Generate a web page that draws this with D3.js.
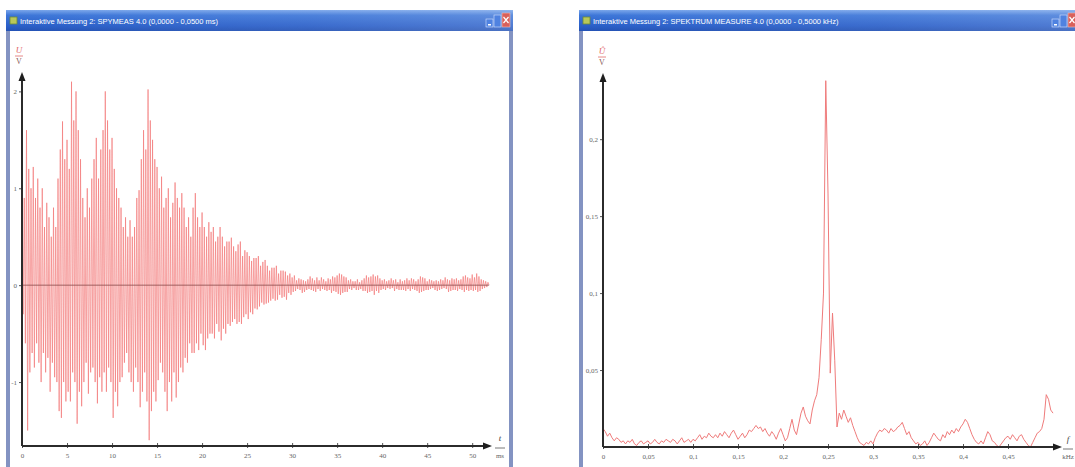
<!DOCTYPE html>
<html>
<head>
<meta charset="utf-8">
<script src="https://cdn.jsdelivr.net/npm/d3@7"></script>
<style>
  body { margin: 0; background: #ffffff; }
  svg { display: block; }
</style>
</head>
<body>
<svg id="chart" width="1075" height="467"></svg>
<script>
// ---- Oscillogram: voltage U in V, sampled every 0.125 ms (one row = 1 ms) ----
const sampleStepMs = 0.125;
const voltage = [
  0.4, -0.3, 0.9, -0.6, 1.6, -1.5, 1.2, -0.9,
  1.0, -0.7, 1.22, -0.85, 0.9, -0.6, 1.1, -0.8,
  0.8, -1.0, 1.0, -0.7, 0.6, -0.9, 0.85, -0.75,
  0.7, -1.1, 0.5, -0.8, 0.8, -0.95, 0.6, -1.0,
  1.1, -1.3, 1.4, -1.37, 1.69, -1.0, 1.3, -1.2,
  1.5, -1.1, 1.2, -1.2, 2.1, -0.9, 1.7, -1.0,
  2.0, -1.43, 1.6, -1.1, 1.3, -1.25, 0.9, -1.0,
  0.7, -0.8, 1.0, -1.12, 0.8, -0.9, 1.1, -0.85,
  1.3, -1.0, 1.52, -1.22, 1.1, -0.95, 1.4, -1.1,
  1.6, -0.9, 2.0, -1.1, 1.7, -0.85, 1.4, -1.0,
  1.52, -1.37, 1.2, -1.1, 1.0, -1.25, 0.9, -1.0,
  0.8, -0.95, 0.6, -0.8, 0.7, -0.7, 0.5, -0.9,
  0.67, -1.0, 0.5, -1.1, 0.6, -0.85, 0.9, -1.0,
  0.98, -1.26, 1.3, -1.1, 1.6, -0.9, 1.4, -1.2,
  2.02, -1.6, 1.7, -1.3, 1.5, -1.1, 1.3, -1.2,
  1.22, -0.98, 1.0, -0.8, 1.12, -0.9, 0.8, -1.1,
  0.9, -1.3, 1.0, -1.0, 0.7, -1.2, 0.85, -0.9,
  1.06, -1.16, 0.9, -1.0, 0.8, -0.85, 0.95, -0.9,
  0.8, -0.75, 0.6, -0.8, 0.7, -0.6, 0.5, -0.7,
  0.8, -0.7, 0.95, -0.6, 0.7, -0.67, 0.6, -0.5,
  0.75, -0.62, 0.6, -0.67, 0.5, -0.55, 0.65, -0.5,
  0.55, -0.5, 0.6, -0.55, 0.45, -0.4, 0.5, -0.48,
  0.6, -0.57, 0.5, -0.45, 0.4, -0.5, 0.45, -0.4,
  0.45, -0.42, 0.49, -0.38, 0.4, -0.35, 0.35, -0.4,
  0.42, -0.38, 0.45, -0.4, 0.3, -0.33, 0.36, -0.3,
  0.34, -0.35, 0.3, -0.28, 0.25, -0.3, 0.28, -0.24,
  0.28, -0.25, 0.3, -0.22, 0.2, -0.18, 0.24, -0.2,
  0.26, -0.19, 0.2, -0.18, 0.15, -0.16, 0.18, -0.14,
  0.18, -0.16, 0.2, -0.15, 0.12, -0.1, 0.15, -0.13,
  0.15, -0.12, 0.14, -0.15, 0.1, -0.08, 0.12, -0.1,
  0.08, -0.07, 0.1, -0.06, 0.05, -0.04, 0.07, -0.05,
  0.06, -0.08, 0.05, -0.07, 0.04, -0.05, 0.06, -0.04,
  0.09, -0.05, 0.07, -0.06, 0.05, -0.07, 0.08, -0.04,
  0.05, -0.06, 0.08, -0.04, 0.06, -0.05, 0.04, -0.06,
  0.07, -0.05, 0.06, -0.08, 0.09, -0.06, 0.08, -0.07,
  0.1, -0.09, 0.12, -0.1, 0.11, -0.08, 0.09, -0.07,
  0.08, -0.07, 0.05, -0.04, 0.06, -0.05, 0.04, -0.03,
  0.04, -0.05, 0.06, -0.05, 0.03, -0.04, 0.05, -0.06,
  0.07, -0.06, 0.1, -0.08, 0.08, -0.07, 0.09, -0.06,
  0.11, -0.1, 0.09, -0.06, 0.1, -0.08, 0.07, -0.05,
  0.05, -0.04, 0.06, -0.05, 0.04, -0.03, 0.05, -0.04,
  0.07, -0.03, 0.05, -0.06, 0.06, -0.04, 0.03, -0.05,
  0.06, -0.05, 0.04, -0.05, 0.05, -0.06, 0.07, -0.04,
  0.05, -0.06, 0.07, -0.04, 0.06, -0.05, 0.04, -0.06,
  0.06, -0.08, 0.09, -0.07, 0.08, -0.06, 0.07, -0.05,
  0.04, -0.05, 0.06, -0.04, 0.05, -0.03, 0.04, -0.05,
  0.05, -0.06, 0.04, -0.05, 0.06, -0.04, 0.05, -0.03,
  0.08, -0.04, 0.06, -0.07, 0.05, -0.06, 0.07, -0.05,
  0.06, -0.05, 0.07, -0.06, 0.05, -0.04, 0.06, -0.05,
  0.09, -0.07, 0.1, -0.05, 0.08, -0.06, 0.07, -0.05,
  0.11, -0.06, 0.08, -0.05, 0.12, -0.07, 0.09, -0.06,
  0.06, -0.04, 0.05, -0.03, 0.04, -0.02, 0.03, 0.0
];
const timeTicks = [0, 5, 10, 15, 20, 25, 30, 35, 40, 45, 50];
const timeTickLabels = ["0", "5", "10", "15", "20", "25", "30", "35", "40", "45", "50"];
const voltageTicks = [-1, 0, 1, 2];
const voltageTickLabels = ["-1", "0", "1", "2"];

// ---- Spectrum: amplitude Û in V, sampled every 0.0025 kHz ----
const freqStepKHz = 0.0025;
const amplitude = [
  0.012, 0.010, 0.007, 0.009, 0.006, 0.004, 0.006, 0.005, 0.003, 0.004,
  0.002, 0.004, 0.003, 0.005, 0.002, 0.001, 0.003, 0.004, 0.002, 0.003,
  0.004, 0.002, 0.003, 0.005, 0.003, 0.002, 0.004, 0.003, 0.005, 0.004,
  0.003, 0.005, 0.004, 0.002, 0.004, 0.006, 0.003, 0.004, 0.005, 0.003,
  0.005, 0.004, 0.006, 0.008, 0.005, 0.007, 0.006, 0.009, 0.007, 0.006,
  0.008, 0.006, 0.009, 0.007, 0.010, 0.008, 0.006, 0.009, 0.011, 0.008,
  0.005, 0.007, 0.009, 0.006, 0.008, 0.011, 0.010, 0.012, 0.014, 0.012,
  0.013, 0.010, 0.012, 0.009, 0.007, 0.010, 0.008, 0.005, 0.009, 0.012,
  0.008, 0.004, 0.006, 0.012, 0.018, 0.011, 0.008, 0.015, 0.022, 0.026,
  0.020, 0.017, 0.015, 0.024, 0.030, 0.034, 0.045, 0.070, 0.100, 0.238,
  0.165, 0.048, 0.087, 0.056, 0.013, 0.022, 0.018, 0.024, 0.020, 0.016,
  0.019, 0.014, 0.010, 0.006, 0.003, 0.002, 0.001, 0.003, 0.002, 0.004,
  0.002, 0.006, 0.009, 0.011, 0.010, 0.012, 0.011, 0.009, 0.012, 0.010,
  0.011, 0.013, 0.014, 0.016, 0.012, 0.008, 0.010, 0.006, 0.004, 0.002,
  0.003, 0.001, 0.002, 0.004, 0.001, 0.003, 0.006, 0.009, 0.007, 0.005,
  0.004, 0.008, 0.006, 0.010, 0.008, 0.011, 0.009, 0.012, 0.010, 0.013,
  0.015, 0.018, 0.016, 0.012, 0.008, 0.005, 0.003, 0.002, 0.004, 0.002,
  0.006, 0.010, 0.008, 0.004, 0.003, 0.001, 0.000, 0.002, 0.004, 0.006,
  0.007, 0.005, 0.008, 0.006, 0.004, 0.007, 0.008, 0.005, 0.003, 0.001,
  0.000, 0.003, 0.006, 0.009, 0.010, 0.012, 0.018, 0.034, 0.031, 0.024,
  0.022
];
const freqTicks = [0, 0.05, 0.1, 0.15, 0.2, 0.25, 0.3, 0.35, 0.4, 0.45];
const freqTickLabels = ["0", "0,05", "0,1", "0,15", "0,2", "0,25", "0,3", "0,35", "0,4", "0,45"];
const ampTicks = [0.05, 0.1, 0.15, 0.2];
const ampTickLabels = ["0,05", "0,1", "0,15", "0,2"];

const leftTitle = "Interaktive Messung 2: SPYMEAS 4.0 (0,0000 - 0,0500 ms)";
const rightTitle = "Interaktive Messung 2: SPEKTRUM MEASURE 4.0 (0,0000 - 0,5000 kHz)";

const svg = d3.select("#chart");
const defs = svg.append("defs");

const tg = defs.append("linearGradient").attr("id", "titleGrad")
  .attr("x1", 0).attr("y1", 0).attr("x2", 0).attr("y2", 1);
tg.append("stop").attr("offset", "0%").attr("stop-color", "#7aa6ea");
tg.append("stop").attr("offset", "25%").attr("stop-color", "#3d76d8");
tg.append("stop").attr("offset", "75%").attr("stop-color", "#2a5fc9");
tg.append("stop").attr("offset", "100%").attr("stop-color", "#2352b5");

const hg = defs.append("linearGradient").attr("id", "titleSheen")
  .attr("x1", 0).attr("y1", 0).attr("x2", 1).attr("y2", 0);
hg.append("stop").attr("offset", "0%").attr("stop-color", "#ffffff").attr("stop-opacity", 0.0);
hg.append("stop").attr("offset", "60%").attr("stop-color", "#ffffff").attr("stop-opacity", 0.08);
hg.append("stop").attr("offset", "100%").attr("stop-color", "#ffffff").attr("stop-opacity", 0.18);

// A small application window with title bar and caption buttons
function drawWindow(x, y, w, h, title) {
  const g = svg.append("g");
  g.append("rect").attr("x", x).attr("y", y).attr("width", w).attr("height", h)
    .attr("fill", "#8393c2");
  g.append("rect").attr("x", x + 4).attr("y", y + 21).attr("width", w - 8).attr("height", h - 21)
    .attr("fill", "#ffffff");
  g.append("rect").attr("x", x).attr("y", y).attr("width", w).attr("height", 21)
    .attr("fill", "url(#titleGrad)");
  g.append("rect").attr("x", x).attr("y", y).attr("width", w).attr("height", 21)
    .attr("fill", "url(#titleSheen)");
  // app icon
  g.append("rect").attr("x", x + 4).attr("y", y + 7).attr("width", 7).attr("height", 7)
    .attr("fill", "#b8c85a").attr("stroke", "#6b8a3a").attr("stroke-width", 0.8);
  g.append("text").attr("x", x + 14).attr("y", y + 14)
    .attr("font-family", "Liberation Sans, Arial, sans-serif")
    .attr("font-size", 7.5).attr("fill", "#ffffff")
    .text(title);
  // caption buttons
  const bx = x + w - 27;
  g.append("rect").attr("x", bx).attr("y", y + 9).attr("width", 7).attr("height", 8)
    .attr("fill", "#4f82e0").attr("stroke", "#d8e4ff").attr("stroke-width", 0.6);
  g.append("rect").attr("x", bx + 2).attr("y", y + 14).attr("width", 3).attr("height", 1.5)
    .attr("fill", "#ffffff");
  g.append("rect").attr("x", bx + 8).attr("y", y + 5).attr("width", 7).attr("height", 12)
    .attr("fill", "#4f82e0").attr("stroke", "#d8e4ff").attr("stroke-width", 0.6);
  g.append("rect").attr("x", bx + 16).attr("y", y + 3).attr("width", 8).attr("height", 14)
    .attr("fill", "#d9605a").attr("stroke", "#f2c0bc").attr("stroke-width", 0.6);
  g.append("path")
    .attr("d", `M${bx + 17.5},${y + 7} L${bx + 22.5},${y + 13} M${bx + 22.5},${y + 7} L${bx + 17.5},${y + 13}`)
    .attr("stroke", "#ffffff").attr("stroke-width", 1.2);
  return g;
}

// Axes with arrow heads, small ticks and a fraction-style quantity label
function drawAxes(o) {
  const g = svg.append("g");
  const x0 = o.x.range()[0], x1 = o.x.range()[1];
  const y0 = o.y.range()[0], y1 = o.y.range()[1];

  const xa = d3.axisBottom(o.x).tickValues(o.xTicks)
    .tickFormat((d, i) => o.xLabels[i]).tickSizeInner(3).tickSizeOuter(0).tickPadding(4);
  const gx = g.append("g").attr("transform", `translate(0,${y0})`).call(xa);
  gx.select(".domain").remove();
  gx.selectAll(".tick line").attr("stroke", "#555").attr("y1", -3).attr("y2", 2);
  gx.selectAll(".tick text").attr("fill", "#666").attr("font-size", 7)
    .attr("font-family", "Liberation Serif, serif");

  const ya = d3.axisLeft(o.y).tickValues(o.yTicks)
    .tickFormat((d, i) => o.yLabels[i]).tickSizeInner(3).tickSizeOuter(0).tickPadding(2);
  const gy = g.append("g").attr("transform", `translate(${x0},0)`).call(ya);
  gy.select(".domain").remove();
  gy.selectAll(".tick line").attr("stroke", "#555");
  gy.selectAll(".tick text").attr("fill", "#666").attr("font-size", 7)
    .attr("font-family", "Liberation Serif, serif");

  g.append("line").attr("x1", x0).attr("x2", x1 - 6).attr("y1", y0).attr("y2", y0)
    .attr("stroke", "#2b2b2b").attr("stroke-width", 2);
  g.append("line").attr("x1", x0).attr("x2", x0).attr("y1", y0).attr("y2", y1 + 6)
    .attr("stroke", "#2b2b2b").attr("stroke-width", 2);
  g.append("path").attr("d", `M${x1},${y0} L${x1 - 9},${y0 - 3.5} L${x1 - 9},${y0 + 3.5} Z`)
    .attr("fill", "#1e1e1e");
  g.append("path").attr("d", `M${x0},${y1} L${x0 - 3.5},${y1 + 9} L${x0 + 3.5},${y1 + 9} Z`)
    .attr("fill", "#1e1e1e");

  // quantity / unit labels
  const fs = "Liberation Serif, serif";
  g.append("text").attr("x", o.yLabelX).attr("y", y1 - 19).attr("text-anchor", "middle")
    .attr("font-family", fs).attr("font-style", "italic").attr("font-size", 9)
    .attr("fill", "#e06a6a").text(o.yQuantity);
  g.append("line").attr("x1", o.yLabelX - 4).attr("x2", o.yLabelX + 4)
    .attr("y1", y1 - 16).attr("y2", y1 - 16).attr("stroke", "#e06a6a").attr("stroke-width", 0.8);
  g.append("text").attr("x", o.yLabelX).attr("y", y1 - 8).attr("text-anchor", "middle")
    .attr("font-family", fs).attr("font-size", 8).attr("fill", "#8a5a5a").text("V");

  g.append("text").attr("x", o.xLabelX).attr("y", y0 - 5).attr("text-anchor", "middle")
    .attr("font-family", fs).attr("font-style", "italic").attr("font-size", 9)
    .attr("fill", "#444").text(o.xQuantity);
  g.append("line").attr("x1", o.xLabelX - 5).attr("x2", o.xLabelX + 5)
    .attr("y1", y0 + 2).attr("y2", y0 + 2).attr("stroke", "#555").attr("stroke-width", 0.8);
  g.append("text").attr("x", o.xLabelX).attr("y", y0 + 12).attr("text-anchor", "middle")
    .attr("font-family", fs).attr("font-size", 7).attr("fill", "#666").text(o.xUnit);
  return g;
}

// ---------- windows ----------
drawWindow(6, 10, 507, 460, leftTitle);
drawWindow(579, 10, 500, 460, rightTitle);

// ---------- oscillogram ----------
const xL = d3.scaleLinear().domain([0, 52.2]).range([22, 492]);
const yL = d3.scaleLinear().domain([-1.66, 2.2]).range([446, 72]);

svg.append("path")
  .datum(voltage)
  .attr("fill", "none")
  .attr("stroke", "#f27373")
  .attr("stroke-opacity", 0.8)
  .attr("stroke-width", 0.8)
  .attr("stroke-linejoin", "miter")
  .attr("d", d3.line().x((d, i) => xL(i * sampleStepMs)).y(d => yL(d)));

svg.append("line")
  .attr("x1", xL(0)).attr("x2", xL((voltage.length - 1) * sampleStepMs))
  .attr("y1", yL(0)).attr("y2", yL(0))
  .attr("stroke", "#8a4a4a").attr("stroke-opacity", 0.8).attr("stroke-width", 1);

drawAxes({
  x: xL, y: yL,
  xTicks: timeTicks, xLabels: timeTickLabels,
  yTicks: voltageTicks, yLabels: voltageTickLabels,
  yQuantity: "U", xQuantity: "t", xUnit: "ms",
  yLabelX: 19, xLabelX: 500
});

// ---------- spectrum ----------
const xR = d3.scaleLinear().domain([0, 0.51]).range([603, 1062]);
const yR = d3.scaleLinear().domain([0, 0.243]).range([447, 73]);

svg.append("path")
  .datum(amplitude)
  .attr("fill", "none")
  .attr("stroke", "#ef7b7b")
  .attr("stroke-width", 1)
  .attr("d", d3.line().x((d, i) => xR(i * freqStepKHz)).y(d => yR(d)));

drawAxes({
  x: xR, y: yR,
  xTicks: freqTicks, xLabels: freqTickLabels,
  yTicks: ampTicks, yLabels: ampTickLabels,
  yQuantity: "Û", xQuantity: "f", xUnit: "kHz",
  yLabelX: 602, xLabelX: 1068
});
</script>
</body>
</html>
